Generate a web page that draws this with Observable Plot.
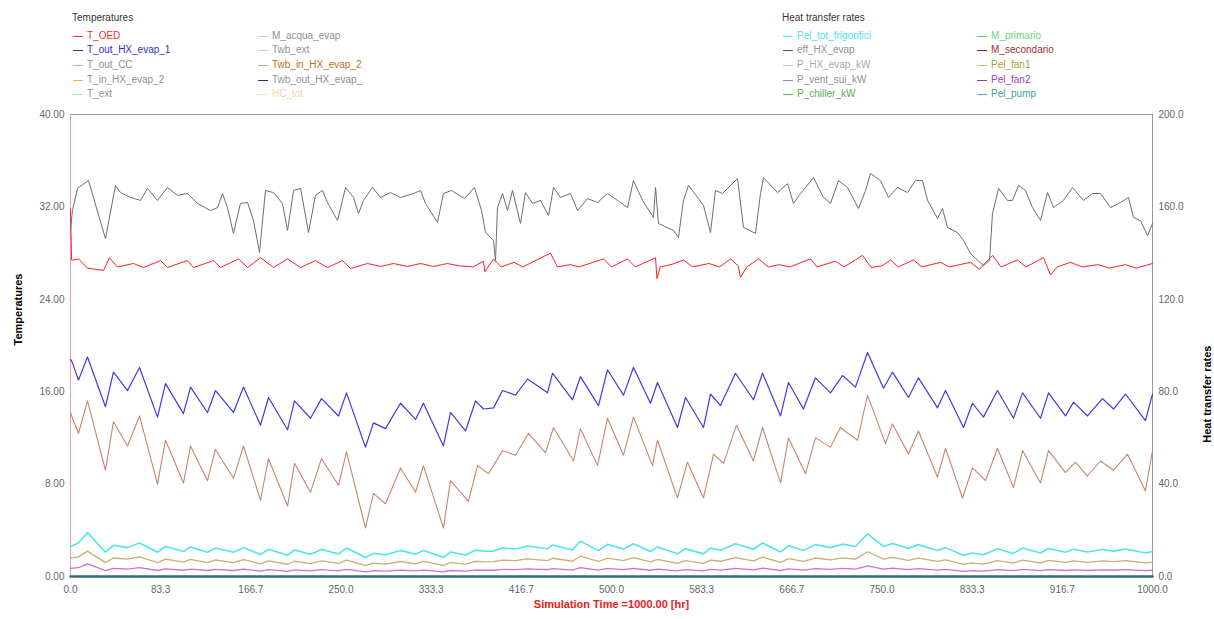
<!DOCTYPE html>
<html><head><meta charset="utf-8">
<script src="https://cdn.jsdelivr.net/npm/d3@7"></script>
<script src="https://cdn.jsdelivr.net/npm/@observablehq/plot@0.6"></script>
<style>
body{margin:0;background:#fff;font-family:"Liberation Sans",Arial,sans-serif;}
#legend{position:relative;width:1214px;height:105px;font-size:10px;}
#legend .t{position:absolute;color:#333;white-space:nowrap;}
#legend .it{position:absolute;white-space:nowrap;line-height:12px;}
#legend .it i{display:inline-block;width:10px;height:0;border-top:1.5px solid;vertical-align:middle;margin-right:4px;}
</style></head><body>
<div id="legend"></div><div id="chart"></div>
<script>
// ---------- axes / ticks ----------
const xTicks = [0, 83.333, 166.667, 250, 333.333, 416.667, 500, 583.333, 666.667, 750, 833.333, 916.667, 1000];
const leftTicks = [0, 8, 16, 24, 32, 40];
const rightTicks = [0, 40, 80, 120, 160, 200];
const leftMax = 40, rightMax = 200;

// ---------- legend ----------
const legTempNames = ["T_OED","T_out_HX_evap_1","T_out_CC","T_in_HX_evap_2","T_ext","M_acqua_evap","Twb_ext","Twb_in_HX_evap_2","Twb_out_HX_evap_","HC_tot"];
const legTempLine = ["#ff3030","#3030a0","#d890f0","#f0b050","#a8e0c8","#a8d8d8","#f0b8c4","#b8b080","#303060","#f8e4b0"];
const legTempText = ["#f03030","#3030c8","#909090","#909090","#909090","#909090","#909090","#c07020","#909090","#f0d8a0"];
const legHeatNames = ["Pel_tot_frigorifici","eff_HX_evap","P_HX_evap_kW","P_vent_sui_kW","P_chiller_kW","M_primario","M_secondario","Pel_fan1","Pel_fan2","Pel_pump"];
const legHeatLine = ["#60e0f0","#4848a8","#c8c8c8","#a878c8","#50c050","#60d060","#802020","#c0c080","#9040a0","#50b0b0"];
const legHeatText = ["#50e0f0","#909090","#a8a8a8","#909090","#50b050","#70d070","#a03030","#a0a040","#a040c0","#40a0a0"];

// ---------- series (t [hr], value) ----------
const T_OED = [[0,31.8],[1,27.4],[3,27.4],[7.4,27.5],[15.7,26.7],[30.5,26.5],[36,27.6],[43.4,26.8],[58.2,27.1],[67.4,26.75],[83.2,27.35],[89.6,26.75],[108.1,27.35],[113.7,26.75],[132.1,27.35],[138.6,26.75],[155.3,27.5],[163.6,26.75],[175.6,27.6],[187.6,26.75],[200.6,27.5],[212.6,26.75],[226.4,27.35],[237.5,26.75],[251.4,27.35],[258.8,26.67],[274.5,27.1],[286.5,26.84],[298.5,27.1],[311.5,26.84],[323.5,27.1],[335.5,26.84],[348.4,27.1],[359,26.9],[372,26.8],[381.7,27.3],[383,26.4],[391,27.5],[398,26.8],[410,27.2],[418,26.8],[443.6,28.0],[450,26.8],[462,27.0],[470,26.8],[492.6,27.5],[500,26.8],[514.8,27.5],[522,26.8],[540.7,27.6],[542,25.8],[545,26.8],[555,27.0],[566.5,27.4],[575,26.8],[590,27.1],[600,26.8],[610,27.5],[617,26.9],[619.2,25.9],[625,26.8],[635.9,27.5],[645,26.8],[655,27.0],[665,26.8],[683.9,27.5],[690,26.8],[707,27.3],[715,26.8],[732,27.8],[740,26.75],[750,26.9],[757.9,27.4],[765,26.8],[779,27.4],[787,26.8],[804,27.2],[812,26.8],[831.8,27.2],[840,26.6],[852.1,27.8],[860,26.8],[875.2,27.4],[883,26.8],[899.3,27.6],[905.7,26.1],[912,26.8],[924.2,27.2],[935,26.8],[950,27.0],[960,26.7],[975,27.0],[985,26.7],[1000,27.1]];

const T_out_HX_evap_1 = [[0,18.8],[1.8,18.5],[7.4,17.0],[15.7,19.0],[32.3,14.7],[39.7,17.7],[52.7,16.1],[63.8,18.1],[80.4,13.8],[87.8,16.7],[104.4,14.1],[110.9,16.4],[126.6,14.2],[134,16.1],[150.6,14.2],[159.9,16.4],[175.6,13.1],[183,15.5],[200.6,12.7],[207,15.2],[221.8,13.7],[232,15.4],[247.7,13.9],[255.1,15.9],[272.6,11.2],[280,13.3],[291.1,12.8],[305,15.0],[318.9,13.6],[326.2,15.0],[344.7,11.3],[351.2,14.2],[365.1,12.6],[374.3,15.2],[381.7,14.5],[391,14.6],[399.3,16.1],[411.3,15.7],[422.4,17.1],[440.9,15.9],[445.5,17.6],[464,15.3],[471.3,17.3],[488,14.8],[496.3,17.9],[511.1,15.7],[520.3,18.1],[536,15.0],[542.5,16.8],[561,12.9],[568.4,15.5],[585,12.9],[591.5,15.8],[600.7,14.8],[614.6,17.6],[631.2,15.3],[639.6,17.6],[656.2,13.9],[663.6,16.8],[677.4,14.5],[688.5,17.2],[702.4,15.9],[713.5,17.4],[725.5,16.4],[736.6,19.4],[751.4,16.3],[759.7,17.7],[774.5,15.5],[783.7,17.2],[801.3,14.6],[808.7,16.1],[825.3,12.9],[833.6,15.0],[843.8,13.8],[856.7,16.1],[871.5,13.7],[879.9,15.9],[896.5,13.7],[903.9,15.9],[919.6,13.9],[927,15.1],[939.9,13.9],[953.8,15.4],[964,14.5],[975,15.8],[993.5,13.5],[1000,15.8]];

const Twb_in_HX_evap_2 = [[0,14.2],[1.8,13.7],[7.4,12.4],[15.7,15.2],[32.3,9.2],[39.7,13.4],[52.7,11.3],[63.8,13.9],[80.4,8.0],[87.8,11.8],[104.4,8.1],[110.9,11.3],[126.6,8.3],[134,11.0],[150.6,8.5],[159.9,11.3],[175.6,6.6],[183,10.2],[200.6,6.1],[207,9.8],[221.8,7.3],[232,10.2],[247.7,7.9],[255.1,10.8],[272.6,4.2],[280,7.2],[291.1,6.3],[305,9.4],[318.9,7.3],[326.2,9.6],[344.7,4.2],[351.2,8.3],[367.8,6.5],[376.2,9.6],[386.3,8.9],[399.3,10.9],[411.3,10.5],[423.3,12.4],[439,10.7],[446.4,12.9],[464.9,10.0],[471.3,12.8],[487.1,9.6],[496.3,13.7],[511.1,10.5],[520.3,13.8],[537.9,9.6],[542.5,11.8],[561,6.8],[570.2,9.9],[585,6.8],[594.3,10.6],[603.5,9.8],[615.5,13.1],[631.2,10.0],[639.6,12.9],[656.2,8.1],[663.6,12.0],[679.3,8.9],[688.5,12.0],[702.4,11.2],[711.6,12.9],[727.4,11.8],[736.6,15.7],[753.2,11.5],[759.7,13.2],[774.5,10.6],[783.7,12.6],[801.3,8.6],[808.7,11.1],[824.4,6.8],[833.6,9.4],[845.7,8.3],[856.7,11.1],[871.5,7.7],[879.9,10.9],[896.5,8.1],[903.9,10.9],[919.6,9.0],[928.8,9.9],[939.9,8.7],[951.9,10.0],[964,9.2],[976.9,10.6],[993.5,7.4],[1000,10.9]];

// right-axis series (kW)
const P_HX_evap_kW = [[0,150],[1.8,158.4],[6.5,168.0],[16.6,171.4],[32.3,146.3],[41.6,169.3],[46.2,166.2],[55.5,164.1],[64.7,162.8],[71.2,168.0],[80.4,162.8],[89.6,168.4],[98.9,165.0],[108.1,165.8],[117.4,161.5],[129.4,158.4],[135.9,159.7],[140.5,165.8],[145.1,159.7],[150.6,148.5],[157.1,161.5],[163.6,161.9],[169.1,154.1],[174.7,140.3],[180.2,167.1],[187.6,166.2],[195.9,161.5],[200.6,149.8],[206.1,167.1],[212.6,168.0],[220,148.9],[226.4,165.0],[232.9,167.1],[237.5,161.9],[246.8,154.1],[254.2,168.4],[261.6,164.1],[266.2,157.1],[270.8,162.8],[279.1,168.4],[286.5,164.1],[295.7,166.2],[305,164.1],[317,165.8],[323.5,167.1],[328.1,161.5],[339.2,153.3],[344.7,165.8],[352.1,167.1],[364.1,163.6],[373.4,168.4],[379.9,158.4],[383.5,148.9],[388.2,146.8],[391,145.5],[392.8,136.5],[394.6,159.7],[399.3,165.8],[403.9,158.4],[408.5,167.1],[415.9,152.8],[420.5,166.2],[427,161.5],[434.4,162.8],[441.8,156.3],[446.4,168.4],[452.9,164.1],[462.1,165.8],[468.6,158.4],[477.8,163.6],[487.1,161.9],[496.3,165.8],[505.5,162.8],[514.8,159.7],[520.3,171.4],[528.7,162.8],[538.8,155.4],[540.7,168.4],[543.4,152.8],[557.3,149.8],[561.9,146.8],[566.5,162.8],[571.2,169.3],[579.5,164.1],[585,160.6],[591.5,148.9],[596.1,167.1],[602.6,165.8],[610,169.3],[616.5,172.3],[622,151.1],[633.1,148.5],[637.7,165.8],[640.5,172.7],[653.4,166.2],[662.7,170.1],[668.2,161.5],[674.7,165.8],[679.3,168.4],[686.7,172.7],[695.9,164.1],[702.4,161.5],[709.8,171.4],[718.1,168.4],[728.3,159.3],[734.8,167.1],[739.4,174.5],[748.6,171.4],[756,164.1],[764.3,168.4],[773.6,166.2],[780.9,171.4],[787.4,171.4],[792.1,162.8],[801.3,155.0],[805.9,159.3],[810.5,151.1],[819.8,148.9],[825.3,145.5],[831.8,139.8],[836.4,137.7],[843.8,134.6],[849.4,136.8],[852.1,157.1],[857.7,168.0],[866,162.8],[870.6,162.8],[876.2,169.3],[882.6,167.1],[889.1,159.7],[896.5,154.1],[903,166.2],[908.5,159.7],[917.7,162.8],[926.1,168.4],[936.2,162.8],[944.5,165.8],[951.9,165.8],[961.2,159.7],[970.4,161.9],[977.8,164.1],[982.4,155.4],[988.9,154.1],[995.4,147.6],[1000,152.8]];

const bottomT = [0,7.4,15.7,32.3,39.7,52.7,63.8,80.4,87.8,104.4,110.9,126.6,134,150.6,159.9,175.6,183,200.6,207,221.8,232,247.7,255.1,272.6,280,291.1,305,318.9,326.2,344.7,351.2,365.1,374.3,381.7,391,399.3,411.3,422.4,440.9,445.5,464,471.3,488,496.3,511.1,520.3,536,542.5,561,568.4,585,591.5,600.7,614.6,631.2,639.6,656.2,663.6,677.4,688.5,702.4,713.5,725.5,736.6,751.4,759.7,774.5,783.7,801.3,808.7,825.3,833.6,843.8,856.7,871.5,879.9,896.5,903.9,919.6,927,939.9,953.8,964,975,993.5,1000];
const Pel_tot_frigorifici = [13.0,14.5,19.0,10.5,13.5,12.5,14.5,10.5,13.0,10.8,12.8,10.5,12.3,10.5,12.5,9.5,11.8,9.2,11.5,9.6,11.7,9.8,12.3,8.2,10.0,9.4,11.3,9.6,11.3,8.3,10.6,9.3,11.4,10.9,11.0,12.3,11.9,13.2,12.0,13.6,11.5,15.3,11.2,13.9,11.9,14.2,10.8,12.8,9.8,12.0,9.8,12.3,11.4,14.2,11.8,14.5,10.6,13.3,11.3,13.8,12.5,14.0,13.0,18.5,13.0,14.3,12.2,13.8,11.3,12.5,9.2,10.2,9.4,12.0,10.0,12.3,10.2,12.1,10.5,11.8,10.6,11.7,11.0,11.9,10.2,10.8];
const Pel_fan1 = [8.0,8.5,11.0,6.0,8.0,7.5,8.5,6.0,7.5,6.2,7.4,6.0,7.2,6.0,7.3,5.5,6.8,5.3,6.6,5.6,6.8,5.7,7.1,4.8,5.8,5.4,6.5,5.5,6.5,4.8,6.1,5.4,6.6,6.3,6.4,7.1,6.9,7.6,6.9,7.9,6.6,8.8,6.5,8.0,6.9,8.2,6.3,7.4,5.7,6.9,5.7,7.1,6.6,8.2,6.8,8.4,6.1,7.7,6.5,8.0,7.2,8.1,7.5,10.7,7.5,8.3,7.0,8.0,6.5,7.2,5.3,5.9,5.4,6.9,5.8,7.1,5.9,7.0,6.1,6.8,6.1,6.8,6.4,6.9,5.9,6.2];
const Pel_fan2 = [3.5,3.8,5.5,2.5,3.5,3.2,3.8,2.6,3.3,2.7,3.2,2.6,3.1,2.6,3.2,2.3,3.0,2.2,2.9,2.4,3.0,2.4,3.1,2.0,2.5,2.3,2.8,2.4,2.8,2.0,2.6,2.3,2.8,2.7,2.7,3.1,3.0,3.3,3.0,3.4,2.8,3.8,2.8,3.5,3.0,3.5,2.7,3.2,2.4,3.0,2.4,3.1,2.8,3.5,2.9,3.6,2.6,3.3,2.8,3.4,3.1,3.5,3.2,4.6,3.2,3.6,3.0,3.4,2.8,3.1,2.2,2.5,2.3,3.0,2.5,3.1,2.5,3.0,2.6,2.9,2.6,2.9,2.7,3.0,2.5,2.7];
const Pel_pump = [[0,0],[1000,0]];

// ---------- legend DOM ----------
const leg = document.getElementById("legend");
function addText(x, y, s, color) {
  const d = document.createElement("div"); d.className = "t";
  d.style.left = x + "px"; d.style.top = (y - 6) + "px"; d.style.color = color; d.textContent = s; leg.appendChild(d);
}
function addItem(x, y, s, lc, tc) {
  const d = document.createElement("div"); d.className = "it";
  d.style.left = x + "px"; d.style.top = (y - 6) + "px"; d.style.color = tc;
  const i = document.createElement("i"); i.style.borderTopColor = lc; d.appendChild(i);
  d.appendChild(document.createTextNode(s)); leg.appendChild(d);
}
const rowsY = [36, 50, 65, 80, 94];
addText(72, 18, "Temperatures", "#333");
addText(782, 18, "Heat transfer rates", "#333");
legTempNames.forEach((n, k) => addItem(k < 5 ? 73 : 258, rowsY[k % 5], n, legTempLine[k], legTempText[k]));
legHeatNames.forEach((n, k) => addItem(k < 5 ? 783 : 977, rowsY[k % 5], n, legHeatLine[k], legHeatText[k]));

// ---------- chart ----------
const ratio = rightMax / leftMax;
const toRows = (arr, scale) => arr.map(([t, v]) => ({t, y: v / scale}));
const fromCols = (ts, vs, scale) => ts.map((t, k) => ({t, y: vs[k] / scale}));

const series = [
  {data: toRows(Pel_pump, ratio), stroke: "#2e6e6e", w: 2.5},
  {data: fromCols(bottomT, Pel_fan2, ratio), stroke: "#d070d0", w: 1.3},
  {data: fromCols(bottomT, Pel_fan1, ratio), stroke: "#c8b070", w: 1.3},
  {data: fromCols(bottomT, Pel_tot_frigorifici, ratio), stroke: "#50e4f0", w: 1.6},
  {data: toRows(Twb_in_HX_evap_2, 1), stroke: "#c8866a", w: 1.1},
  {data: toRows(T_out_HX_evap_1, 1), stroke: "#3c3ce0", w: 1.2},
  {data: toRows(T_OED, 1), stroke: "#ff2020", w: 1},
  {data: toRows(P_HX_evap_kW, ratio), stroke: "#6e6e6e", w: 1}
];

const chart = Plot.plot({
  width: 1214, height: 514,
  marginTop: 9, marginBottom: 43, marginLeft: 70, marginRight: 62,
  x: {domain: [0, 1000]},
  y: {domain: [0, leftMax]},
  style: {fontFamily: "Liberation Sans, Arial, sans-serif", fontSize: "10px", color: "#666", background: "#fff"},
  marks: [
    Plot.axisX({ticks: xTicks, tickFormat: d3.format(".1f"), tickSize: 0, tickPadding: 9, label: null}),
    Plot.axisY({ticks: leftTicks, tickFormat: d3.format(".2f"), tickSize: 0, tickPadding: 6, label: null}),
    Plot.axisY({anchor: "right", ticks: rightTicks.map(v => v / ratio), tickFormat: d => (d * ratio).toFixed(1), tickSize: 0, tickPadding: 6, label: null}),
    Plot.ruleY([leftMax], {stroke: "#999"}),
    Plot.ruleX([1000], {stroke: "#999"}),
    Plot.ruleX([0], {stroke: "#e8a0a8"}),
    ...series.map(s => Plot.line(s.data, {x: "t", y: "y", stroke: s.stroke, strokeWidth: s.w})),
    Plot.text(["Temperatures"], {text: d => d, frameAnchor: "left", dx: -52, rotate: -90, fill: "#000", fontWeight: "bold", fontSize: 11}),
    Plot.text(["Heat transfer rates"], {text: d => d, frameAnchor: "right", dx: 55, rotate: -90, fill: "#000", fontWeight: "bold", fontSize: 11}),
    Plot.text(["Simulation Time =1000.00 [hr]"], {text: d => d, frameAnchor: "bottom", dy: 31, fill: "#e82020", fontWeight: "bold", fontSize: 11})
  ]
});
document.getElementById("chart").appendChild(chart);
</script>
</body></html>
